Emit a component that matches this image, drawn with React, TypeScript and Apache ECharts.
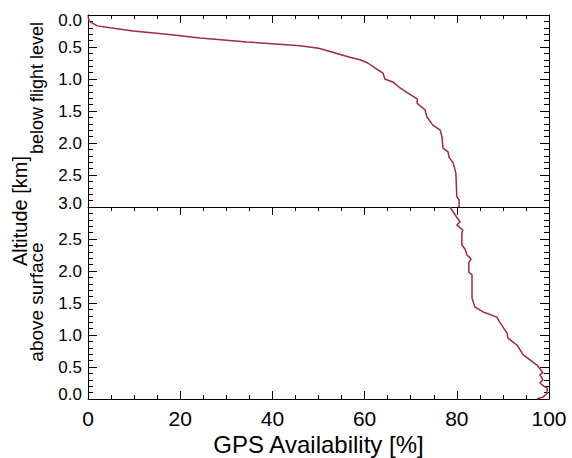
import React, { useEffect, useRef } from "react";
import * as echarts from "echarts";

// Upper panel: altitude below flight level [km] vs GPS availability [%]
const topAvail = [0, 0.3, 2.0, 4.8, 9.8, 17.1, 24.3, 34.5, 46.0, 50.0, 52.5, 56.8, 59.0, 60.7, 62.3, 64.0, 64.4, 66.2, 67.7, 69.4, 71.4, 71.4, 73.1, 73.5, 74.8, 76.4, 76.8, 77.0, 78.1, 78.3, 79.2, 79.8, 80.0, 80.5, 80.5];
const topDepth = [0.02, 0.1, 0.17, 0.2, 0.25, 0.3, 0.36, 0.42, 0.48, 0.52, 0.57, 0.66, 0.7, 0.75, 0.83, 0.91, 1.0, 1.05, 1.14, 1.22, 1.31, 1.38, 1.48, 1.59, 1.72, 1.8, 1.91, 2.08, 2.14, 2.22, 2.31, 2.47, 2.84, 2.89, 3.0];

// Lower panel: altitude above surface [km] vs GPS availability [%]
const botAvail = [78.5, 80.0, 80.7, 80.0, 81.3, 81.1, 81.1, 81.8, 82.2, 83.1, 82.6, 82.6, 83.3, 83.3, 83.9, 85.7, 88.7, 89.4, 90.9, 91.1, 93.1, 94.4, 97.4, 98.7, 98.0, 98.7, 98.0, 99.1, 99.6, 99.6, 98.7, 97.4];
const botHeight = [3.0, 2.84, 2.77, 2.72, 2.64, 2.59, 2.41, 2.34, 2.25, 2.19, 2.13, 1.98, 1.94, 1.58, 1.44, 1.36, 1.28, 1.19, 1.03, 0.95, 0.84, 0.69, 0.53, 0.41, 0.38, 0.3, 0.25, 0.19, 0.17, 0.09, 0.03, 0.0];

const xTicks = { min: 0, max: 100, interval: 20 };
const yTicks = { min: 0, max: 3, interval: 0.5 };

const FONT = "'Liberation Sans', Arial, Helvetica, sans-serif";
const LINE_COLOR = "#a0284c";

export default function App() {
  const ref = useRef<HTMLDivElement>(null);
  useEffect(() => {
    if (!ref.current) return;
    const chart = echarts.init(ref.current, undefined, { renderer: "svg" });
    const axisLine = { show: true, onZero: false, lineStyle: { color: "#000", width: 1 } };
    const xTick = { show: true, inside: true, length: 8, lineStyle: { color: "#000" } };
    const xMinor = { show: true, splitNumber: 4, length: 4, lineStyle: { color: "#000" } };
    const yTick = { show: true, inside: true, length: 9, lineStyle: { color: "#000" } };
    const yMinor = { show: true, splitNumber: 5, length: 5, lineStyle: { color: "#000" } };
    const yLabelBase = { color: "#000", fontSize: 17, fontFamily: FONT, margin: 6 };

    const topData = topAvail.map((x, i) => [x, topDepth[i]]);
    const botData = botAvail.map((x, i) => [x, botHeight[i]]);

    chart.setOption({
      animation: false,
      backgroundColor: "#fff",
      grid: [
        { left: 88, right: 23, top: 15, height: 192, outerBoundsMode: "none", containLabel: false },
        { left: 88, right: 23, top: 207, height: 192, outerBoundsMode: "none", containLabel: false },
      ],
      xAxis: [
        {
          gridIndex: 0, type: "value", position: "top", ...xTicks,
          axisLine, axisTick: xTick, minorTick: xMinor,
          axisLabel: { show: false }, splitLine: { show: false },
        },
        {
          gridIndex: 1, type: "value", position: "bottom", ...xTicks,
          axisLine, axisTick: xTick, minorTick: xMinor,
          axisLabel: { show: true, color: "#000", fontSize: 21, fontFamily: FONT, margin: 9 },
          splitLine: { show: false },
          name: "GPS Availability [%]", nameLocation: "middle", nameGap: 33,
          nameTextStyle: { color: "#000", fontSize: 24, fontFamily: FONT },
        },
        {
          gridIndex: 1, type: "value", position: "top", ...xTicks,
          axisLine, axisTick: xTick, minorTick: xMinor,
          axisLabel: { show: false }, splitLine: { show: false },
        },
      ],
      yAxis: [
        {
          gridIndex: 0, type: "value", position: "left", inverse: true, ...yTicks,
          axisLine, axisTick: yTick, minorTick: yMinor, splitLine: { show: false },
          axisLabel: {
            ...yLabelBase,
            formatter: (v: number) =>
              v === 0 ? "{d|0.0}" : v === 3 ? "{u|3.0}" : v.toFixed(1),
            rich: {
              d: { fontSize: 17, fontFamily: FONT, color: "#000", padding: [10, 0, 0, 0] },
              u: { fontSize: 17, fontFamily: FONT, color: "#000", padding: [0, 0, 8, 0] },
            },
          },
        },
        {
          gridIndex: 0, type: "value", position: "right", inverse: true, ...yTicks,
          axisLine, axisTick: yTick, minorTick: yMinor, splitLine: { show: false },
          axisLabel: { show: false },
        },
        {
          gridIndex: 1, type: "value", position: "left", ...yTicks,
          axisLine, axisTick: yTick, minorTick: yMinor, splitLine: { show: false },
          axisLabel: {
            ...yLabelBase,
            showMaxLabel: false,
            formatter: (v: number) => (v === 0 ? "{u|0.0}" : v.toFixed(1)),
            rich: {
              u: { fontSize: 17, fontFamily: FONT, color: "#000", padding: [0, 0, 10, 0] },
            },
          },
        },
        {
          gridIndex: 1, type: "value", position: "right", ...yTicks,
          axisLine, axisTick: yTick, minorTick: yMinor, splitLine: { show: false },
          axisLabel: { show: false },
        },
      ],
      series: [
        {
          type: "line", xAxisIndex: 0, yAxisIndex: 0, data: topData,
          showSymbol: false, symbol: "none", clip: true,
          lineStyle: { color: LINE_COLOR, width: 1.5 },
        },
        {
          type: "line", xAxisIndex: 1, yAxisIndex: 2, data: botData,
          showSymbol: false, symbol: "none", clip: true,
          lineStyle: { color: LINE_COLOR, width: 1.5 },
        },
      ],
      graphic: [
        {
          type: "text", x: 20, y: 211, rotation: Math.PI / 2,
          style: { text: "Altitude [km]", font: `20px ${FONT}`, fill: "#000", textAlign: "center", textVerticalAlign: "middle" },
        },
        {
          type: "text", x: 37, y: 88, rotation: Math.PI / 2,
          style: { text: "below flight level", font: `18px ${FONT}`, fill: "#000", textAlign: "center", textVerticalAlign: "middle" },
        },
        {
          type: "text", x: 36, y: 302, rotation: Math.PI / 2,
          style: { text: "above surface", font: `19px ${FONT}`, fill: "#000", textAlign: "center", textVerticalAlign: "middle" },
        },
      ],
    });
    return () => chart.dispose();
  }, []);
  return (
    <div
      ref={ref}
      style={{ position: "fixed", left: 0, top: 0, width: 572, height: 458 }}
    />
  );
}
